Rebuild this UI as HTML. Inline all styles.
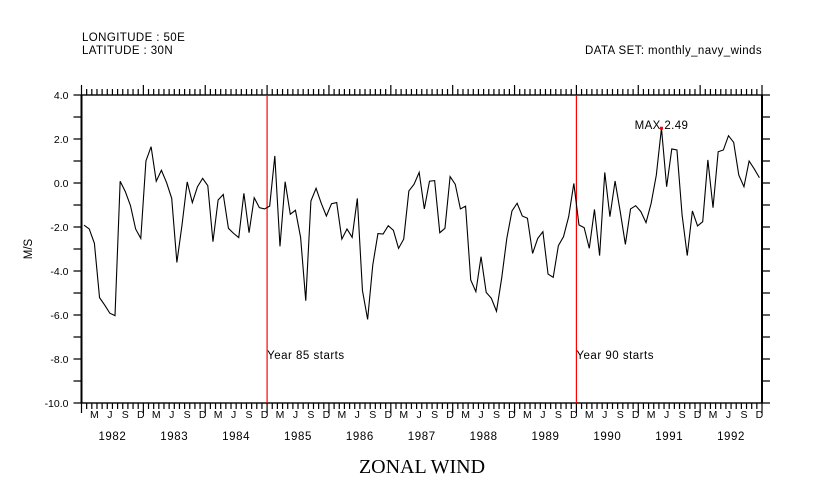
<!DOCTYPE html>
<html><head><meta charset="utf-8"><style>
body{margin:0;background:#fff;}
svg text{font-family:"Liberation Sans",sans-serif;fill:#000;}
</style></head><body>
<svg id="chart" width="830" height="498" viewBox="0 0 830 498" xmlns="http://www.w3.org/2000/svg">
<text x="82" y="41" font-size="11.5" letter-spacing="0.4">LONGITUDE : 50E</text>
<text x="82" y="54" font-size="11.5" letter-spacing="0.4">LATITUDE : 30N</text>
<text x="762" y="54" font-size="11.5" text-anchor="end" letter-spacing="0.4">DATA SET: monthly_navy_winds</text>
<text x="0" y="0" font-size="11.5" text-anchor="middle" transform="translate(32,249) rotate(-90)">M/S</text>
<text x="422" y="473" font-size="20" text-anchor="middle" style="font-family:'Liberation Serif',serif">ZONAL WIND</text>
<g id="axes"></g>
<g id="marks"></g>
</svg>
<script>
const years = [1982,1983,1984,1985,1986,1987,1988,1989,1990,1991,1992];
const yTicks = [4,2,0,-2,-4,-6,-8,-10];
const monthLetters = ['','','M','','','J','','','S','','','D'];
const windValues = [
-1.92,-2.09,-2.74,-5.21,-5.55,-5.92,-6.03,0.08,-0.39,-1.03,-2.09,-2.52,
1.0,1.65,0.08,0.58,0.02,-0.7,-3.61,-1.9,0.05,-0.89,-0.17,0.21,
-0.12,-2.67,-0.77,-0.52,-2.06,-2.29,-2.48,-0.47,-2.26,-0.67,-1.12,-1.18,
-1.05,1.23,-2.88,0.06,-1.42,-1.24,-2.47,-5.35,-0.82,-0.24,-0.92,-1.5,
-0.94,-0.89,-2.55,-2.09,-2.47,-0.7,-4.89,-6.2,-3.73,-2.3,-2.32,-1.94,
-2.15,-2.97,-2.55,-0.36,-0.06,0.48,-1.18,0.08,0.11,-2.26,-2.06,0.29,
-0.06,-1.18,-1.05,-4.41,-4.94,-3.35,-4.97,-5.24,-5.83,-4.33,-2.52,-1.27,
-0.92,-1.5,-1.6,-3.2,-2.52,-2.21,-4.14,-4.29,-2.85,-2.44,-1.53,-0.02,
-1.91,-2.03,-2.97,-1.2,-3.3,0.48,-1.53,0.09,-1.3,-2.79,-1.18,-1.03,
-1.3,-1.8,-0.92,0.36,2.49,-0.17,1.55,1.5,-1.45,-3.3,-1.27,-1.95,
-1.76,1.05,-1.12,1.42,1.5,2.15,1.85,0.36,-0.17,1.0,0.64,0.24];
const markerYears = [1985,1990];

const L=81.5,R=762,T=95,B=403,yMin=-10,yMax=4;
const nMonths = years.length*12;
const mw=(R-L)/nMonths;
function xMonth(m){return L+m*mw;}
function xIdx(i){return L+(i+0.5)*mw;}
function yV(v){return B-(v-yMin)/(yMax-yMin)*(B-T);}
const NS='http://www.w3.org/2000/svg';
function mk(tag,attrs,parent){const e=document.createElementNS(NS,tag);for(const k in attrs)e.setAttribute(k,attrs[k]);parent.appendChild(e);return e;}
const axes=document.getElementById('axes'), marks=document.getElementById('marks');
let d='';
for(let m=0;m<=nMonths;m++){
  const x=xMonth(m).toFixed(2), major=(m%12===0);
  d+=`M${x} ${T}V${T-(major?10:6)}M${x} ${B}V${B+(major?10:6)}`;
}
for(let v=yMin;v<=yMax;v++){
  const y=yV(v).toFixed(2);
  d+=`M${L} ${y}H${L-8}M${R} ${y}H${R+8}`;
}
const ticks=mk('path',{d:d,stroke:'#000','stroke-width':1.2,fill:'none'},axes);


const frame=mk('rect',{x:L,y:T,width:R-L,height:B-T,fill:'none',stroke:'#000','stroke-width':1.4},axes);


mk('line',{x1:L,y1:T,x2:L,y2:B,stroke:'#000','stroke-width':2},axes);
mk('line',{x1:R,y1:T,x2:R,y2:B,stroke:'#000','stroke-width':2},axes);
yTicks.forEach(v=>{
  const t=mk('text',{x:L-13,y:yV(v)+4,'font-size':10.5,'text-anchor':'end'},axes);
  t.textContent=v.toFixed(1);
  
  
});
years.forEach((yr,k)=>{
  for(let m=0;m<12;m++){
    if(!monthLetters[m])continue;
    const t=mk('text',{x:xIdx(k*12+m),y:B+15,'font-size':10.5,'text-anchor':'middle'},axes);
    t.textContent=monthLetters[m];
    
    
  }
  const t=mk('text',{x:xMonth(k*12+6),y:B+37,'font-size':11.5,'text-anchor':'middle','letter-spacing':0.6},axes);
  t.textContent=String(yr);
  
  
});
markerYears.forEach(yr=>{
  const x=xMonth((yr-years[0])*12);
  const l=mk('line',{x1:x,y1:T,x2:x,y2:B,stroke:'#ff0000','stroke-width':1.2},marks);
  
  
  const t=mk('text',{x:x,y:359,'font-size':11.5,'letter-spacing':0.5},marks);
  t.textContent='Year '+String(yr).slice(2)+'  starts';
  
  
});
const pts=windValues.map((v,i)=>xIdx(i).toFixed(2)+','+yV(v).toFixed(2)).join(' ');
const pl=mk('polyline',{points:pts,fill:'none',stroke:'#000','stroke-width':1.1},marks);


let mi=0;windValues.forEach((v,i)=>{if(v>windValues[mi])mi=i;});
const mx=xIdx(mi),my=yV(windValues[mi]);
const mm=mk('rect',{x:mx-1.5,y:my-1.5,width:3,height:3,fill:'#ff0000'},marks);


const mt=mk('text',{x:mx,y:my+1,'font-size':11.5,'text-anchor':'middle','letter-spacing':0.4},marks);
mt.textContent='MAX  '+windValues[mi].toFixed(2);


</script>
</body></html>
